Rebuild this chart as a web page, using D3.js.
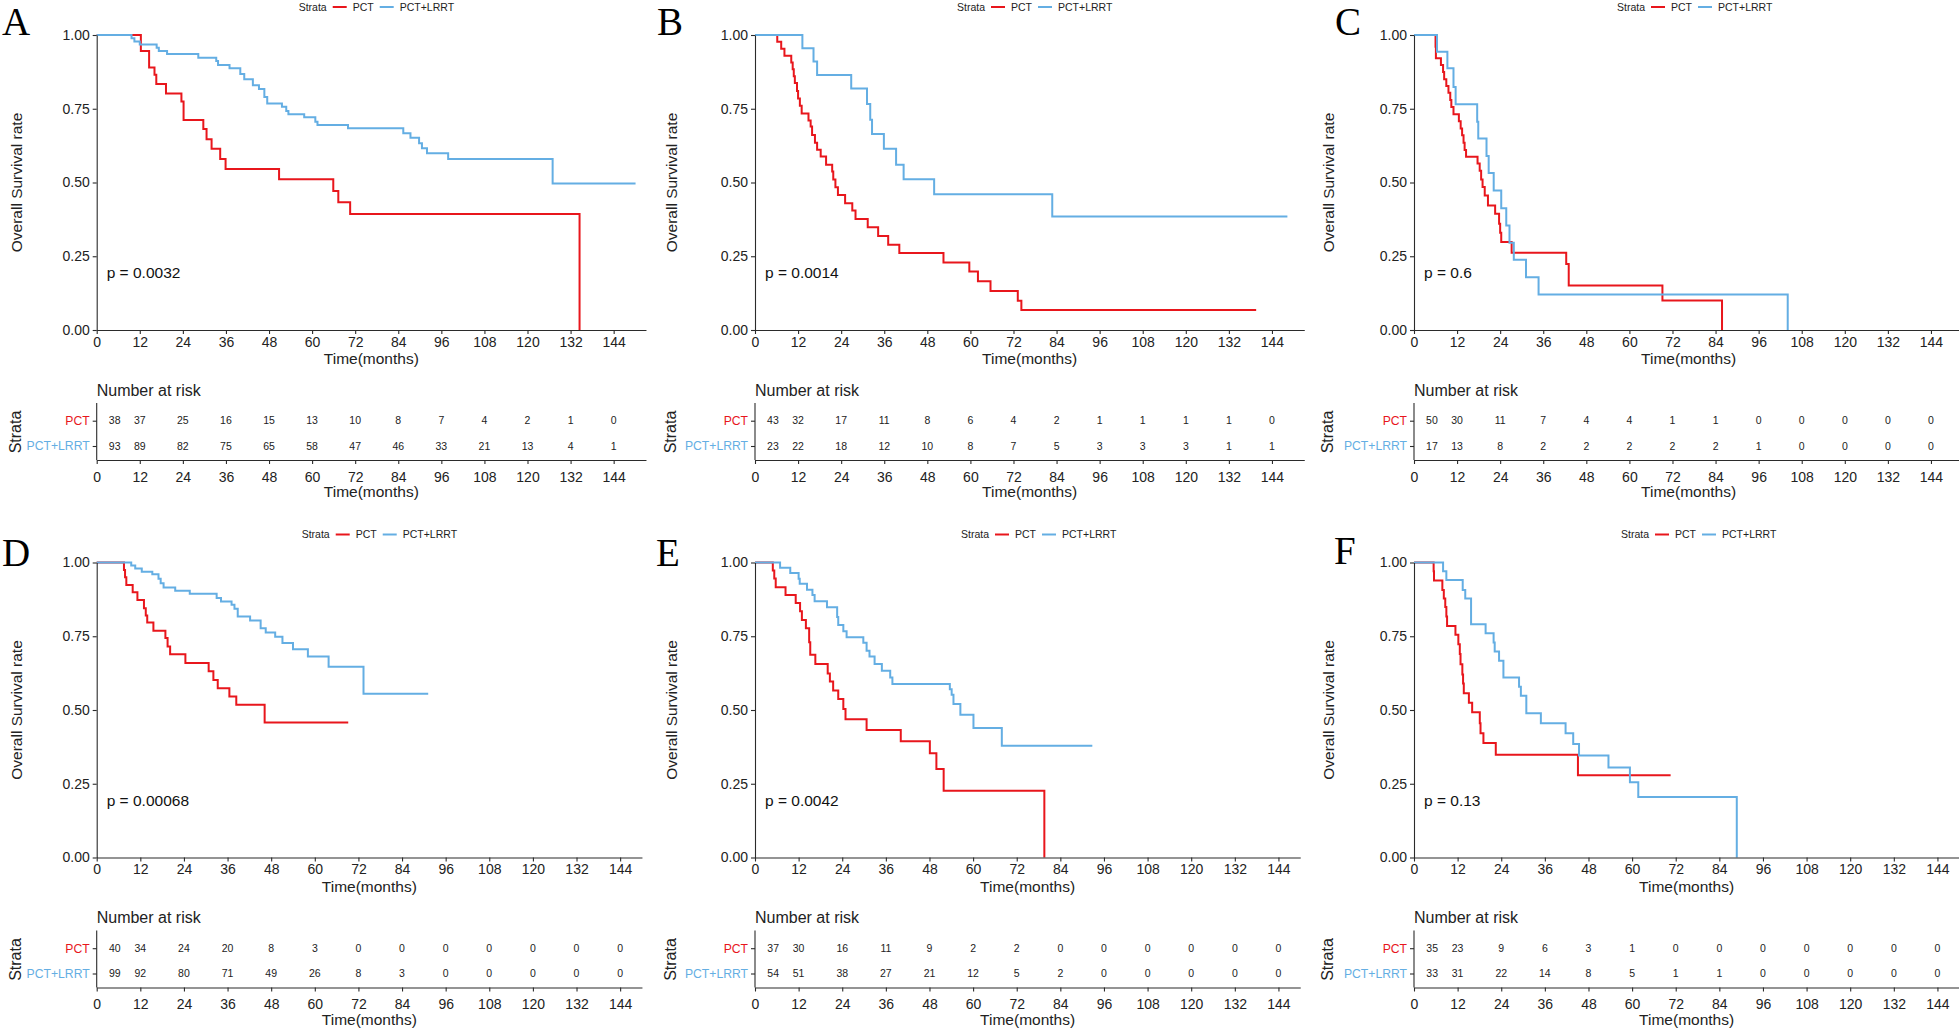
<!DOCTYPE html>
<html><head><meta charset="utf-8">
<script src="https://cdn.jsdelivr.net/npm/d3@7/dist/d3.min.js"></script>
<style>
body{margin:0;background:#fff}
svg{display:block}
text{font-family:'Liberation Sans',Arial,sans-serif}
</style></head>
<body><svg id="c" width="1959" height="1028"></svg>
<script>
// ---------- DATA ----------
const panelLabels = ["A","B","C","D","E","F"];
const strata = ["PCT","PCT+LRRT"];
const timeBreaks = [0,12,24,36,48,60,72,84,96,108,120,132,144];
const riskTimes = [5,12,24,36,48,60,72,84,96,108,120,132,144];
const survTicks = [0,0.25,0.5,0.75,1];
const pValues = ["p = 0.0032","p = 0.0014","p = 0.6","p = 0.00068","p = 0.0042","p = 0.13"];

const A_pct_time = [0,12.3,14.6,16.1,16.6,19.3,23.6,24.2,29.7,30.6,32.0,34.4,35.9,50.8,65.9,67.3,70.6,134.5];
const A_pct_surv = [1,0.946,0.890,0.865,0.834,0.802,0.775,0.712,0.681,0.647,0.614,0.580,0.546,0.511,0.471,0.433,0.393,0];
const A_lrrt_time = [0,9.7,10.5,12.0,16.7,17.3,19.6,28.3,33.3,33.8,37.0,40.0,41.1,43.5,45.2,46.7,47.5,51.6,52.8,53.4,57.8,60.9,61.5,70.0,85.4,87.4,89.8,90.6,92.0,97.9,127.0,150.1];
const A_lrrt_surv = [1,0.989,0.978,0.968,0.957,0.946,0.936,0.923,0.912,0.898,0.887,0.868,0.850,0.830,0.817,0.790,0.768,0.757,0.742,0.731,0.721,0.706,0.695,0.684,0.667,0.652,0.633,0.616,0.599,0.580,0.497,0.497];

const B_pct_time = [0,6.2,7.3,8.2,10.1,10.5,10.8,11.1,11.7,12.0,12.5,13.0,14.9,15.5,15.9,16.7,17.3,18.3,19.8,21.5,21.8,22.4,23.1,25.1,27.1,28.0,31.4,34.3,37.1,40.2,52.5,59.7,62.1,65.6,73.2,74.2,139.6];
const B_pct_surv = [1,0.977,0.953,0.930,0.907,0.884,0.860,0.837,0.810,0.785,0.760,0.734,0.710,0.690,0.661,0.635,0.611,0.588,0.560,0.537,0.510,0.484,0.458,0.430,0.405,0.376,0.348,0.319,0.289,0.261,0.229,0.198,0.165,0.132,0.099,0.068,0.068];
const B_lrrt_time = [0,13.2,16.3,17.3,26.8,31.2,32.1,32.6,35.9,39.3,41.4,49.9,82.8,148.3];
const B_lrrt_surv = [1,0.955,0.910,0.864,0.819,0.766,0.713,0.664,0.614,0.560,0.511,0.460,0.385,0.385];

const C_pct_time = [0,6.0,6.1,7.5,8.1,8.4,9.0,9.6,10.1,10.4,11.0,12.5,13.0,13.4,13.8,14.1,14.5,17.7,18.3,18.7,19.1,19.7,20.6,22.6,23.7,24.0,24.3,27.2,42.4,43.1,69.2,85.8];
const C_pct_surv = [1,0.960,0.921,0.898,0.875,0.850,0.827,0.804,0.780,0.756,0.731,0.708,0.683,0.660,0.635,0.610,0.587,0.564,0.540,0.510,0.485,0.456,0.422,0.394,0.360,0.330,0.298,0.262,0.224,0.151,0.100,0];
const C_lrrt_time = [0,6.4,9.3,11.0,11.6,17.6,17.9,20.2,20.8,22.2,24.3,25.7,26.6,27.8,31.2,34.7,104.1];
const C_lrrt_surv = [1,0.943,0.887,0.824,0.765,0.706,0.649,0.590,0.532,0.473,0.413,0.354,0.296,0.238,0.179,0.120,0];

const D_pct_time = [0,7.5,7.8,8.15,9.9,11.2,13.0,13.5,13.9,15.6,18.9,19.5,20.2,24.4,30.8,32.1,33.3,36.5,38.4,46.2,69.2];
const D_pct_surv = [1,0.975,0.950,0.924,0.899,0.873,0.845,0.820,0.797,0.769,0.744,0.715,0.689,0.659,0.631,0.602,0.574,0.546,0.518,0.458,0.458];
const D_lrrt_time = [0,9.5,10.6,12.4,15.3,17.0,17.6,18.4,21.6,25.6,33.0,34.2,37.1,37.9,38.8,42.2,45.1,46.5,49.1,51.1,54.0,58.1,63.8,73.4,91.2];
const D_lrrt_surv = [1,0.990,0.980,0.969,0.960,0.945,0.930,0.915,0.904,0.894,0.880,0.868,0.857,0.843,0.817,0.803,0.777,0.763,0.748,0.727,0.706,0.681,0.647,0.555,0.555];

const E_pct_time = [0,4.9,5.3,5.7,8.4,11.2,12.4,12.9,14.0,14.9,15.2,16.6,20.0,20.6,21.5,22.9,24.3,24.9,30.7,40.1,48.1,49.9,51.9,79.6];
const E_pct_surv = [1,0.973,0.946,0.916,0.890,0.863,0.835,0.805,0.777,0.730,0.687,0.656,0.624,0.597,0.566,0.537,0.503,0.469,0.432,0.394,0.353,0.300,0.226,0];
const E_lrrt_time = [0,6.9,9.7,12.0,12.3,14.3,15.8,16.4,19.8,22.6,22.9,24.3,25.2,29.8,30.7,31.5,32.9,34.9,37.2,37.8,53.6,54.1,54.6,56.5,60.1,67.9,92.8];
const E_lrrt_surv = [1,0.982,0.964,0.945,0.928,0.908,0.890,0.869,0.848,0.815,0.788,0.767,0.747,0.728,0.701,0.681,0.656,0.633,0.610,0.588,0.570,0.552,0.520,0.484,0.439,0.379,0.379];

const F_pct_time = [0,5.4,5.5,7.8,8.2,8.6,8.9,9.1,11.4,12.2,12.6,12.8,13.3,13.5,13.7,15.1,16.0,18.1,18.3,19.1,22.5,45.1,70.6];
const F_pct_surv = [1,0.970,0.939,0.907,0.878,0.849,0.817,0.785,0.755,0.723,0.690,0.655,0.620,0.590,0.557,0.525,0.492,0.455,0.421,0.388,0.348,0.279,0.279];
const F_lrrt_time = [0,8.0,8.9,13.4,14.1,15.7,19.7,21.9,22.2,23.4,24.6,28.9,29.4,30.9,34.9,41.7,43.8,45.4,53.5,59.4,61.7,88.8];
const F_lrrt_surv = [1,0.970,0.941,0.907,0.878,0.791,0.760,0.729,0.698,0.667,0.610,0.579,0.548,0.489,0.455,0.421,0.385,0.346,0.305,0.255,0.205,0];

const A_risk_pct  = [38,37,25,16,15,13,10,8,7,4,2,1,0];
const A_risk_lrrt = [93,89,82,75,65,58,47,46,33,21,13,4,1];
const B_risk_pct  = [43,32,17,11,8,6,4,2,1,1,1,1,0];
const B_risk_lrrt = [23,22,18,12,10,8,7,5,3,3,3,1,1];
const C_risk_pct  = [50,30,11,7,4,4,1,1,0,0,0,0,0];
const C_risk_lrrt = [17,13,8,2,2,2,2,2,1,0,0,0,0];
const D_risk_pct  = [40,34,24,20,8,3,0,0,0,0,0,0,0];
const D_risk_lrrt = [99,92,80,71,49,26,8,3,0,0,0,0,0];
const E_risk_pct  = [37,30,16,11,9,2,2,0,0,0,0,0,0];
const E_risk_lrrt = [54,51,38,27,21,12,5,2,0,0,0,0,0];
const F_risk_pct  = [35,23,9,6,3,1,0,0,0,0,0,0,0];
const F_risk_lrrt = [33,31,22,14,8,5,1,1,0,0,0,0,0];

const panels = [
  {pct:[A_pct_time,A_pct_surv], lrrt:[A_lrrt_time,A_lrrt_surv], risk:[A_risk_pct,A_risk_lrrt]},
  {pct:[B_pct_time,B_pct_surv], lrrt:[B_lrrt_time,B_lrrt_surv], risk:[B_risk_pct,B_risk_lrrt]},
  {pct:[C_pct_time,C_pct_surv], lrrt:[C_lrrt_time,C_lrrt_surv], risk:[C_risk_pct,C_risk_lrrt]},
  {pct:[D_pct_time,D_pct_surv], lrrt:[D_lrrt_time,D_lrrt_surv], risk:[D_risk_pct,D_risk_lrrt]},
  {pct:[E_pct_time,E_pct_surv], lrrt:[E_lrrt_time,E_lrrt_surv], risk:[E_risk_pct,E_risk_lrrt]},
  {pct:[F_pct_time,F_pct_surv], lrrt:[F_lrrt_time,F_lrrt_surv], risk:[F_risk_pct,F_risk_lrrt]}
];

// ---------- LAYOUT / STYLE ----------
const RED = "#e8161c", BLUE = "#64aee3", AX = "#2b2b2b", TXT = "#222";
const colLeft = [96.7, 755, 1414];
const rowCfg = [{off:0, ppm:3.59, xmax:153}, {off:527.5, ppm:3.635, xmax:150}];
const letterPos = [[2,35],[657,35],[1335,35],[2,566],[656,566],[1334,564]];
const legendDx = [202,202,203,205,206,207];

const svg = d3.select("#c");

function styleAxis(g, fs){
  g.select(".domain").attr("stroke", AX).attr("stroke-width", 1.1);
  g.selectAll(".tick line").attr("stroke", AX).attr("stroke-width", 1.1);
  g.selectAll(".tick text").attr("fill", TXT).style("font-size", fs + "px")
   .style("font-family", "'Liberation Sans',Arial,sans-serif");
}

panels.forEach((p, i) => {
  const col = i % 3, row = Math.floor(i / 3);
  const L = colLeft[col], R = rowCfg[row], oy = R.off;
  const x = d3.scaleLinear().domain([0, R.xmax]).range([L, L + R.xmax * R.ppm]);
  const y = d3.scaleLinear().domain([0, 1]).range([330 + oy, 35 + oy]);
  const g = svg.append("g");

  // panel letter
  g.append("text").attr("x", letterPos[i][0]).attr("y", letterPos[i][1])
    .style("font-family", "'Liberation Serif','Times New Roman',serif")
    .style("font-size", "39px").attr("fill", "#000").text(panelLabels[i]);

  // legend
  const ly = 7 + oy;
  const lg = g.append("g");
  let lx = L + legendDx[i];
  const fsL = "10.5px";
  const t1 = lg.append("text").attr("x", lx).attr("y", ly).attr("dy", "0.35em")
    .style("font-size", fsL).attr("fill", TXT).text("Strata");
  lx += t1.node().getComputedTextLength() + 6;
  lg.append("line").attr("x1", lx).attr("x2", lx + 14).attr("y1", ly).attr("y2", ly)
    .attr("stroke", RED).attr("stroke-width", 2);
  lx += 20;
  const t2 = lg.append("text").attr("x", lx).attr("y", ly).attr("dy", "0.35em")
    .style("font-size", fsL).attr("fill", TXT).text(strata[0]);
  lx += t2.node().getComputedTextLength() + 6;
  lg.append("line").attr("x1", lx).attr("x2", lx + 14).attr("y1", ly).attr("y2", ly)
    .attr("stroke", BLUE).attr("stroke-width", 2);
  lx += 20;
  lg.append("text").attr("x", lx).attr("y", ly).attr("dy", "0.35em")
    .style("font-size", fsL).attr("fill", TXT).text(strata[1]);

  // curves
  const line = d3.line().x(d => x(d[0])).y(d => y(d[1])).curve(d3.curveStepAfter);
  [[p.pct, RED], [p.lrrt, BLUE]].forEach(([s, c]) => {
    const pts = s[0].map((t, k) => [t, s[1][k]]);
    g.append("path").attr("d", line(pts)).attr("fill", "none")
      .attr("stroke", c).attr("stroke-width", 2).attr("stroke-linejoin", "miter");
  });

  // axes
  const gx = g.append("g").attr("transform", `translate(0,${330 + oy})`)
    .call(d3.axisBottom(x).tickValues(timeBreaks).tickSize(4).tickSizeOuter(0).tickPadding(3).tickFormat(d3.format("d")));
  styleAxis(gx, 14);
  const gy = g.append("g").attr("transform", `translate(${L},0)`)
    .call(d3.axisLeft(y).tickValues(survTicks).tickSize(4).tickSizeOuter(0).tickPadding(3).tickFormat(d3.format(".2f")));
  styleAxis(gy, 14);

  // axis titles
  const yTitleX = 16.7 + col * 655 + (col === 2 ? 2 : 0);
  g.append("text").attr("x", (x.range()[0] + x.range()[1]) / 2).attr("y", 359 + oy).attr("dy", "0.35em")
    .attr("text-anchor", "middle").style("font-size", "15.5px").attr("fill", TXT).text("Time(months)");
  g.append("text").attr("transform", `translate(${yTitleX},${182.5 + oy}) rotate(-90)`)
    .attr("dy", "0.35em").attr("text-anchor", "middle").style("font-size", "15.5px").attr("fill", TXT)
    .text("Overall Survival rate");

  // p-value
  g.append("text").attr("x", L + 10).attr("y", 278 + oy).style("font-size", "15.5px")
    .attr("fill", "#111").text(pValues[i]);

  // ---------- risk table ----------
  g.append("text").attr("x", L).attr("y", 390 + oy).attr("dy", "0.35em")
    .style("font-size", "16px").attr("fill", TXT).text("Number at risk");
  const yr = d3.scalePoint().domain(strata).range([420.7 + oy, 446 + oy]);
  const gry = g.append("g").attr("transform", `translate(${L},0)`)
    .call(d3.axisLeft(yr).tickSize(4).tickPadding(3));
  gry.select(".domain").attr("d", `M-0,${403 + oy}V${460 + oy}`);
  styleAxis(gry, 12.2);
  gry.selectAll(".tick text").attr("fill", d => d === strata[0] ? RED : BLUE);
  const grx = g.append("g").attr("transform", `translate(0,${460 + oy})`)
    .call(d3.axisBottom(x).tickValues(timeBreaks).tickSize(4).tickSizeOuter(0).tickPadding(7.8).tickFormat(d3.format("d")));
  styleAxis(grx, 14);
  g.append("text").attr("x", (x.range()[0] + x.range()[1]) / 2).attr("y", 491.7 + oy).attr("dy", "0.35em")
    .attr("text-anchor", "middle").style("font-size", "15.5px").attr("fill", TXT).text("Time(months)");
  g.append("text").attr("transform", `translate(${yTitleX - 1},${432 + oy}) rotate(-90)`)
    .attr("dy", "0.35em").attr("text-anchor", "middle").style("font-size", "16px").attr("fill", TXT).text("Strata");

  strata.forEach((s, k) => {
    g.append("g").selectAll("text").data(p.risk[k]).join("text")
      .attr("x", (d, j) => x(riskTimes[j])).attr("y", yr(s)).attr("dy", "0.35em")
      .attr("text-anchor", "middle").style("font-size", "10.5px").attr("fill", TXT).text(d => d);
  });
});
</script></body></html>
